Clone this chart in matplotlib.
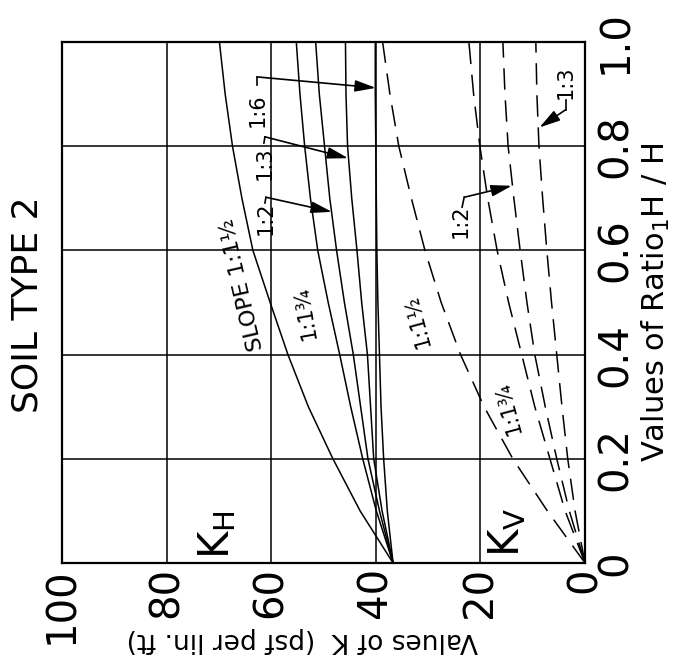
import matplotlib
matplotlib.use('Agg')  # sem display
import matplotlib.pyplot as plt

# Ratio H1/H (vertical axis in the rotated drawing)
ratio = [0.0, 0.1, 0.2, 0.3, 0.4, 0.5, 0.6, 0.7, 0.8, 0.9, 1.0]

# K_H curves (solid), psf per lin. ft
kh_slope_1_1half = [36.7, 43.0, 48.2, 52.9, 56.8, 60.2, 63.5, 65.6, 67.4, 68.8, 69.9]
kh_slope_1_1three4 = [36.7, 39.9, 42.5, 44.8, 46.9, 49.1, 51.1, 52.5, 53.6, 54.5, 55.2]
kh_slope_1_2 = [36.7, 39.3, 41.5, 42.9, 44.3, 46.0, 47.5, 48.8, 49.8, 50.8, 51.5]
kh_slope_1_3 = [36.7, 38.8, 40.4, 41.0, 41.6, 42.7, 43.6, 44.6, 45.4, 45.7, 45.8]
kh_slope_1_6 = [36.7, 37.8, 38.5, 39.0, 39.3, 39.6, 39.8, 39.9, 40.0, 40.1, 40.1]

# K_V curves (dashed)
kv_slope_1_1half = [0.0, 7.2, 13.8, 19.3, 23.8, 27.5, 30.6, 33.2, 35.6, 37.3, 38.7]
kv_slope_1_1three4 = [0.0, 3.8, 6.7, 9.6, 12.1, 14.6, 16.8, 18.6, 20.1, 21.3, 22.2]
kv_slope_1_2 = [0.0, 3.0, 5.4, 7.6, 9.6, 11.1, 12.4, 13.6, 14.7, 15.3, 15.7]
kv_slope_1_3 = [0.0, 1.9, 3.3, 4.4, 5.4, 6.4, 7.3, 8.1, 8.8, 9.2, 9.4]

k_ticks = [0, 20, 40, 60, 80, 100]
k_ticklabels = ['0', '20', '40', '60', '80', '100']
ratio_ticks = [0.0, 0.2, 0.4, 0.6, 0.8, 1.0]
ratio_ticklabels = ['0', '0.2', '0.4', '0.6', '0.8', '1.0']

fig = plt.figure(figsize=(6.75, 6.65), dpi=100)
ax = fig.add_axes([62 / 675, 102 / 665, 523 / 675, 521 / 665])

# Desenho girado 90 graus: K na horizontal (invertido), razao na vertical
ax.set_xlim(100, 0)
ax.set_ylim(0, 1)
ax.set_xticks(k_ticks)
ax.set_xticklabels(k_ticklabels, rotation=90, fontsize=29)
ax.set_yticks(ratio_ticks)
ax.set_yticklabels(ratio_ticklabels, rotation=90, va='center', fontsize=29)
ax.yaxis.tick_right()
ax.yaxis.set_label_position('right')
ax.tick_params(length=0)
ax.tick_params(axis='x', pad=3)
ax.tick_params(axis='y', pad=8)
ax.grid(True, color='black', lw=1.1)
ax.set_axisbelow(True)
for sp in ax.spines.values():
    sp.set_linewidth(1.6)

solid = dict(color='black', lw=1.1)
dashed = dict(color='black', lw=1.1, ls=(0, (14, 7)))

for kh in [kh_slope_1_1half, kh_slope_1_1three4, kh_slope_1_2, kh_slope_1_3, kh_slope_1_6]:
    ax.plot(kh, ratio, **solid)
for kv in [kv_slope_1_1half, kv_slope_1_1three4, kv_slope_1_2, kv_slope_1_3]:
    ax.plot(kv, ratio, **dashed)

lab = dict(fontsize=15, ha='center', va='center')
ax.text(65.6, 0.534, 'SLOPE 1:1½', rotation=103, fontsize=16, ha='center', va='center')
ax.text(53.5, 0.480, '1:1¾', rotation=100, **lab)
ax.text(61.0, 0.662, '1:2', rotation=90, **lab)
ax.text(61.2, 0.768, '1:3', rotation=90, **lab)
ax.text(62.5, 0.870, '1:6', rotation=90, **lab)
ax.text(32.3, 0.466, '1:1½', rotation=105, **lab)
ax.text(14.7, 0.298, '1:1¾', rotation=105, **lab)
ax.text(23.7, 0.655, '1:2', rotation=90, **lab)
ax.text(3.6, 0.923, '1:3', rotation=90, **lab)


def leader(hook_start, hook_end, tip):
    # pequeno gancho + seta
    ax.plot([hook_start[0], hook_end[0]], [hook_start[1], hook_end[1]], color='black', lw=1.2)
    ax.annotate('', xy=tip, xytext=hook_end,
                arrowprops=dict(arrowstyle='-|>,head_length=0.9,head_width=0.25',
                                color='black', lw=1.2, mutation_scale=14,
                                shrinkA=0, shrinkB=0))


leader((61.2, 0.691), (61.0, 0.702), (48.4, 0.674))
leader((61.4, 0.806), (61.2, 0.818), (45.3, 0.777))
leader((62.7, 0.917), (62.7, 0.933), (40.0, 0.912))
leader((23.5, 0.683), (23.1, 0.702), (14.0, 0.724))
leader((3.7, 0.889), (3.7, 0.870), (8.7, 0.836))

ax.text(70.4, 0.054, r'$\mathrm{K}_{\mathrm{H}}$', rotation=90, fontsize=30, ha='center', va='center')
ax.text(14.9, 0.058, r'$\mathrm{K}_{\mathrm{V}}$', rotation=90, fontsize=30, ha='center', va='center')

ax.set_ylabel('Values of Ratio$_1$H / H', rotation=90, fontsize=22, labelpad=3)
ax.text(0.459, -0.148, 'Values of K  (psf per lin. ft)', rotation=180, fontsize=19,
        ha='center', va='center', transform=ax.transAxes)

fig.text(28 / 675, 1 - 305 / 665, 'SOIL TYPE 2', rotation=90, fontsize=26, ha='center', va='center')

plt.savefig('out.png', dpi=100)
plt.close(fig)
